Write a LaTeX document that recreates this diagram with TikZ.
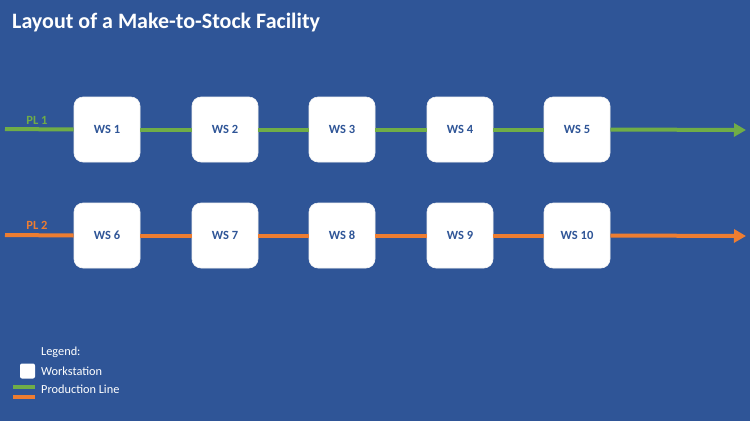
\documentclass[tikz,border=0pt]{standalone}
\usepackage{fontspec}
\setmainfont{Carlito}
\usetikzlibrary{arrows.meta}
\definecolor{bg}{HTML}{2F5597}
\definecolor{plgreen}{HTML}{70AD47}
\definecolor{plorange}{HTML}{ED7D31}
\definecolor{wstext}{HTML}{2F5597}
\begin{document}
\begin{tikzpicture}[x=1pt,y=-1pt,
  wsbox/.style={draw=white!90!gray,line width=0.6pt,fill=white,rounded corners=9pt,minimum width=66pt,minimum height=65pt,inner sep=0pt,font=\bfseries\fontsize{12.5}{14}\selectfont,text=wstext},
  pline/.style={line width=4pt},
  plarrow/.style={line width=4pt,-{Triangle[length=12pt,width=13pt]}},
  pllabel/.style={font=\bfseries\fontsize{12.5}{14}\selectfont,inner sep=0pt},
  legtext/.style={font=\fontsize{12.3}{14}\selectfont,text=white,anchor=west,inner sep=0pt}]
\fill[bg] (0,0) rectangle (750,421);
\useasboundingbox (0,0) rectangle (750,421);
\node[anchor=west,text=white,inner sep=0pt,font=\bfseries\fontsize{22}{26}\selectfont] (title) at (12,23) {Layout of a Make-to-Stock Facility};
\foreach \i/\x in {1/107,2/225,3/342,4/460,5/577}{
  \node[wsbox] (ws\i) at (\x,129.5) {WS \i};
}
\foreach \i/\x in {6/107,7/225,8/342,9/460,10/577}{
  \node[wsbox] (ws\i) at (\x,235.5) {WS \i};
}
\coordinate (s1) at (5,129);
\coordinate (e1) at (746,130);
\coordinate (s2) at (5,235);
\coordinate (e2) at (746,236);
\draw[pline,plgreen] (s1) -- (ws1.west);
\draw[pline,plgreen] (ws1.east) -- (ws2.west);
\draw[pline,plgreen] (ws2.east) -- (ws3.west);
\draw[pline,plgreen] (ws3.east) -- (ws4.west);
\draw[pline,plgreen] (ws4.east) -- (ws5.west);
\draw[plarrow,plgreen] (ws5.east) -- (e1);
\draw[pline,plorange] (s2) -- (ws6.west);
\draw[pline,plorange] (ws6.east) -- (ws7.west);
\draw[pline,plorange] (ws7.east) -- (ws8.west);
\draw[pline,plorange] (ws8.east) -- (ws9.west);
\draw[pline,plorange] (ws9.east) -- (ws10.west);
\draw[plarrow,plorange] (ws10.east) -- (e2);
\node[pllabel,text=plgreen] (pl1) at (37,120) {PL 1};
\node[pllabel,text=plorange] (pl2) at (37,225) {PL 2};
\node[legtext] (legend) at (41,352) {Legend:};
\node[fill=white,rounded corners=2pt,minimum width=15pt,minimum height=15pt,inner sep=0pt] (legbox) at (27.5,371) {};
\node[legtext] (legws) at (41,371) {Workstation};
\fill[plgreen] (13,385) rectangle (35,389);
\fill[plorange] (13,395) rectangle (35,399);
\node[legtext] (legpl) at (41,389) {Production Line};
\end{tikzpicture}
\end{document}
